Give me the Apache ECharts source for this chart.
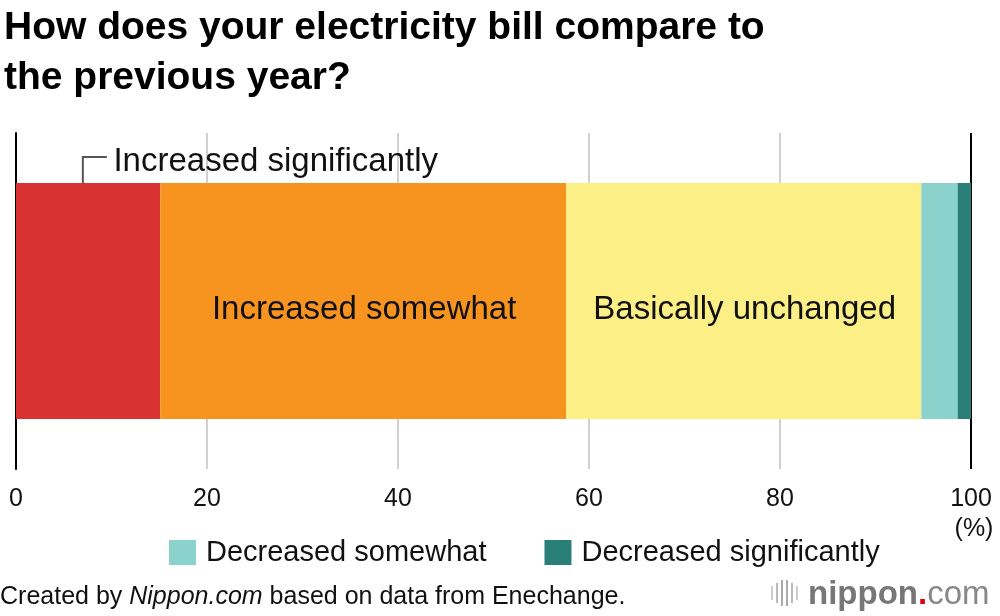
<!DOCTYPE html>
<html>
<head>
<meta charset="utf-8">
<script src="https://cdn.jsdelivr.net/npm/echarts@6/dist/echarts.min.js"></script>
<style>html,body{margin:0;padding:0;background:#fff}#c{width:1000px;height:616px}</style>
</head>
<body>
<div id="c"></div>
<script>
var categories = ['All'];
var seriesNames = ['Increased significantly', 'Increased somewhat', 'Basically unchanged', 'Decreased somewhat', 'Decreased significantly'];
var seriesValues = [15.1, 42.5, 37.2, 3.8, 1.4];
var seriesColors = ['#d83232', '#f7941f', '#fbef85', '#8bd1cc', '#2a8079'];
var tickValues = [0, 20, 40, 60, 80, 100];
var titleText = 'How does your electricity bill compare to\nthe previous year?';
var FONT = 'Liberation Sans, Arial, Helvetica, sans-serif';

var chart = echarts.init(document.getElementById('c'), null, {renderer: 'canvas'});
var inBarLabel = {1: true, 2: true};
var series = seriesNames.map(function (n, i) {
  return {
    name: n, type: 'bar', stack: 'all', barWidth: 236,
    itemStyle: {color: seriesColors[i]},
    label: {show: !!inBarLabel[i], position: 'inside', offset: [1, 9], formatter: '{a}', color: '#111', fontSize: 33, fontFamily: FONT},
    emphasis: {disabled: true},
    data: [seriesValues[i]]
  };
});
var option = {
  animation: false,
  textStyle: {fontFamily: FONT},
  title: {text: titleText, left: 4, top: 3, padding: 0, textStyle: {fontSize: 39, fontWeight: 'bold', color: '#000', lineHeight: 50, fontFamily: FONT}},
  grid: {left: 16, right: 29, top: 133, bottom: 147},
  legend: {
    data: [seriesNames[3], seriesNames[4]], left: 169, top: 538, itemWidth: 27, itemHeight: 25, itemGap: 58, padding: 0,
    icon: 'rect', selectedMode: false,
    textStyle: {fontSize: 29, color: '#111', fontFamily: FONT, padding: [0, 0, 0, 5]}
  },
  xAxis: {
    type: 'value', min: 0, max: 100, interval: 20,
    axisLine: {show: false}, axisTick: {show: false},
    splitLine: {show: true, lineStyle: {color: ['#000', '#d0d0d0', '#d0d0d0', '#d0d0d0', '#d0d0d0', '#000'], width: 2}},
    axisLabel: {
      margin: 15, fontSize: 25, color: '#111', lineHeight: 30, fontFamily: FONT,
      formatter: function (v) { return v === tickValues[tickValues.length - 1] ? v + '\n{p|(%)}' : String(v); },
      rich: {p: {fontSize: 25, color: '#111', fontFamily: FONT, padding: [0, 0, 0, 6], lineHeight: 30}}
    }
  },
  yAxis: {
    type: 'category', data: categories,
    axisLine: {show: true, lineStyle: {color: '#000', width: 2}},
    axisTick: {show: false}, axisLabel: {show: false}
  },
  series: series
};
chart.setOption(option);

// leader line for the first segment, placed via the chart's own scales
var barTop = chart.convertToPixel({gridIndex: 0}, [0, categories[0]])[1] - 118;
var lx = chart.convertToPixel({gridIndex: 0}, [7, categories[0]])[0];
var textX = chart.convertToPixel({gridIndex: 0}, [10.2, categories[0]])[0];
chart.setOption({
  graphic: [
    {type: 'polyline', shape: {points: [[lx, barTop], [lx, barTop - 26], [lx + 24, barTop - 26]]}, style: {stroke: '#555', lineWidth: 2, fill: null}, silent: true},
    {type: 'text', left: textX, top: barTop - 38, style: {text: seriesNames[0], fontSize: 33, fill: '#111', fontFamily: FONT}, silent: true},
    {type: 'text', left: 0, top: 585, style: {
      text: '{n|Created by }{i|Nippon.com}{n| based on data from Enechange.}',
      rich: {n: {fontSize: 25, fill: '#111', fontFamily: FONT}, i: {fontSize: 25, fill: '#111', fontStyle: 'italic', fontFamily: FONT}}
    }, silent: true},
    {type: 'group', left: 771, top: 580, children: [
      {type: 'rect', shape: {x: 0, y: 8, width: 2, height: 14}, style: {fill: '#ccc'}},
      {type: 'rect', shape: {x: 5, y: 5, width: 2, height: 20}, style: {fill: '#bbb'}},
      {type: 'rect', shape: {x: 10, y: 2, width: 2, height: 26}, style: {fill: '#aaa'}},
      {type: 'rect', shape: {x: 15, y: 2, width: 2, height: 26}, style: {fill: '#aaa'}},
      {type: 'rect', shape: {x: 20, y: 5, width: 2, height: 20}, style: {fill: '#bbb'}},
      {type: 'rect', shape: {x: 25, y: 8, width: 2, height: 14}, style: {fill: '#ccc'}}
    ]},
    {type: 'text', left: 808, top: 578, style: {
      text: '{b|nippon}{r|.}{c|com}',
      rich: {
        b: {fontSize: 33, fontWeight: 'bold', fill: '#777', fontFamily: FONT},
        r: {fontSize: 33, fontWeight: 'bold', fill: '#e60012', fontFamily: FONT},
        c: {fontSize: 33, fill: '#888', fontFamily: FONT}
      }
    }, silent: true}
  ]
});
</script>
</body>
</html>
